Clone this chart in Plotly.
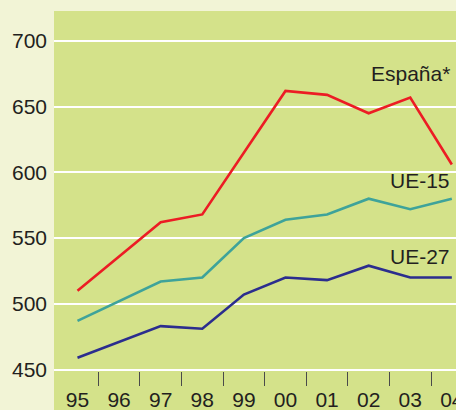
import plotly.graph_objects as go

years = ["95", "96", "97", "98", "99", "00", "01", "02", "03", "04"]
espana = [510, 536, 562, 568, 615, 662, 659, 645, 657, 606]
ue15 = [487, 502, 517, 520, 550, 564, 568, 580, 572, 580]
ue27 = [459, 471, 483, 481, 507, 520, 518, 529, 520, 520]
y_ticks = [450, 500, 550, 600, 650, 700]
series_labels = ["España*", "UE-15", "UE-27"]

FONT = "Liberation Sans, Arial, sans-serif"
idx = list(range(len(years)))

fig = go.Figure()
for vals, color in [(espana, "#ec1c24"), (ue15, "#3ea39a"), (ue27, "#2b2d8e")]:
    fig.add_trace(go.Scatter(x=idx, y=vals, mode="lines",
                             line=dict(color=color, width=2.6),
                             cliponaxis=True, showlegend=False, hoverinfo="skip"))

# series labels
label_pos = [(9.0, 675), (9.0, 594), (9.0, 536)]
for text, (lx, ly) in zip(series_labels, label_pos):
    fig.add_annotation(x=lx, y=ly, text=text, showarrow=False, xanchor="right",
                       yanchor="middle", font=dict(family=FONT, size=21, color="#231f20"))

fig.update_layout(
    width=456, height=410,
    margin=dict(l=54, r=0, t=11, b=0, autoexpand=False),
    paper_bgcolor="#f2f4d6",
    plot_bgcolor="#d4e28a",
    showlegend=False,
    xaxis=dict(
        range=[-0.565, 9.10],
        tickmode="array", tickvals=idx, ticktext=years,
        showgrid=False, zeroline=False, showline=False,
        anchor="free", position=(410 - 371) / 399,
        ticks="outside", ticklen=0, tickcolor="rgba(0,0,0,0)",
        ticklabelstandoff=10,
        ticklabeloverflow="allow",
        tickfont=dict(family=FONT, size=21, color="#231f20"),
        minor=dict(tickmode="array", tickvals=[i + 0.5 for i in idx[:-1]],
                   ticks="outside", ticklen=14, tickwidth=1.4, tickcolor="#4a4a4a",
                   showgrid=False),
        automargin=False,
        fixedrange=True,
    ),
    yaxis=dict(
        range=[419.2, 722.8],
        tickmode="array", tickvals=y_ticks,
        showgrid=True, gridcolor="#ffffff", gridwidth=2.4,
        zeroline=False, showline=False, ticks="",
        ticklabelstandoff=6,
        tickfont=dict(family=FONT, size=21, color="#231f20"),
        automargin=False,
        fixedrange=True,
    ),
)

fig.write_html(
    "out.html",
    config={"displayModeBar": False},
    post_script="document.body.style.margin='0';document.body.style.overflow='hidden';",
)
